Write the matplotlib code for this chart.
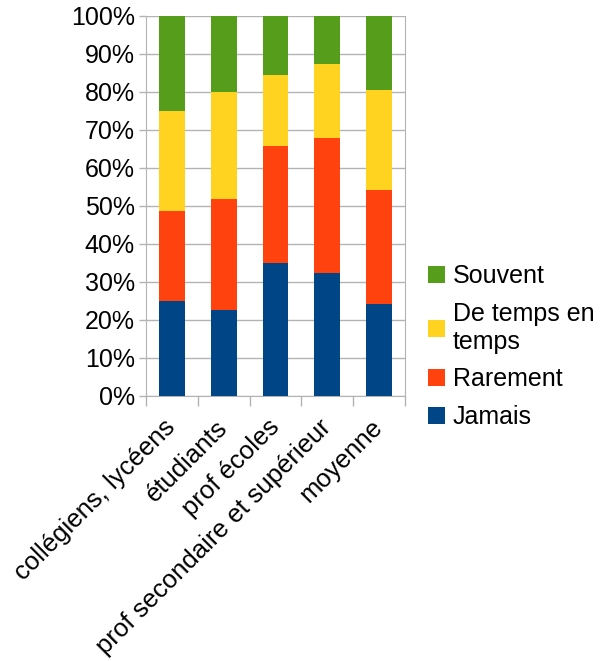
import matplotlib.pyplot as plt
import numpy as np

plt.rcParams['font.family'] = ['Liberation Sans', 'DejaVu Sans']

categories = ["collégiens, lycéens", "étudiants", "prof écoles",
              "prof secondaire et supérieur", "moyenne"]
jamais = [25.0, 22.7, 34.9, 32.4, 24.2]
rarement = [23.7, 29.2, 30.9, 35.6, 30.1]
de_temps = [26.4, 28.2, 18.7, 19.4, 26.3]
souvent = [24.9, 19.9, 15.5, 12.6, 19.4]

series = [("Jamais", jamais, "#004586"),
          ("Rarement", rarement, "#ff420e"),
          ("De temps en\ntemps", de_temps, "#ffd320"),
          ("Souvent", souvent, "#579d1c")]

grid_col = "#b3b3b3"

fig = plt.figure(figsize=(6, 6.61), dpi=100)
ax = fig.add_axes([0.2433, 0.401, 0.4317, 0.5748])

x = np.arange(len(categories))
bottom = np.zeros(len(categories))
for name, vals, col in series:
    ax.bar(x, vals, width=0.5, bottom=bottom, color=col, label=name, zorder=3)
    bottom += np.array(vals)

ax.set_xlim(-0.5, len(categories) - 0.5)
ax.set_ylim(0, 100)
ax.set_yticks(np.arange(0, 101, 10))
ax.set_yticklabels([f"{v}%" for v in range(0, 101, 10)], fontsize=18)
ax.yaxis.grid(True, color=grid_col, linewidth=1, zorder=0)

ax.set_xticks(x)
ax.set_xticklabels(categories, fontsize=18.5, rotation=45, ha="right",
                   va="center", rotation_mode="anchor")
ax.set_xticks(np.arange(-0.5, len(categories)), minor=True)
ax.tick_params(axis="x", which="major", length=0, pad=20)
ax.tick_params(axis="x", which="minor", length=7, color=grid_col, width=1)
ax.tick_params(axis="y", length=5, color=grid_col, width=1, pad=3)

for s in ax.spines.values():
    s.set_color(grid_col)
ax.spines["top"].set_visible(False)

handles, labels = ax.get_legend_handles_labels()
ax.legend(handles[::-1], labels[::-1], loc="center left",
          bbox_to_anchor=(1.05, 0.13), frameon=False, fontsize=18,
          handlelength=0.7, handleheight=0.7, handletextpad=0.3,
          labelspacing=0.55, borderaxespad=0)

plt.savefig("out.png")
